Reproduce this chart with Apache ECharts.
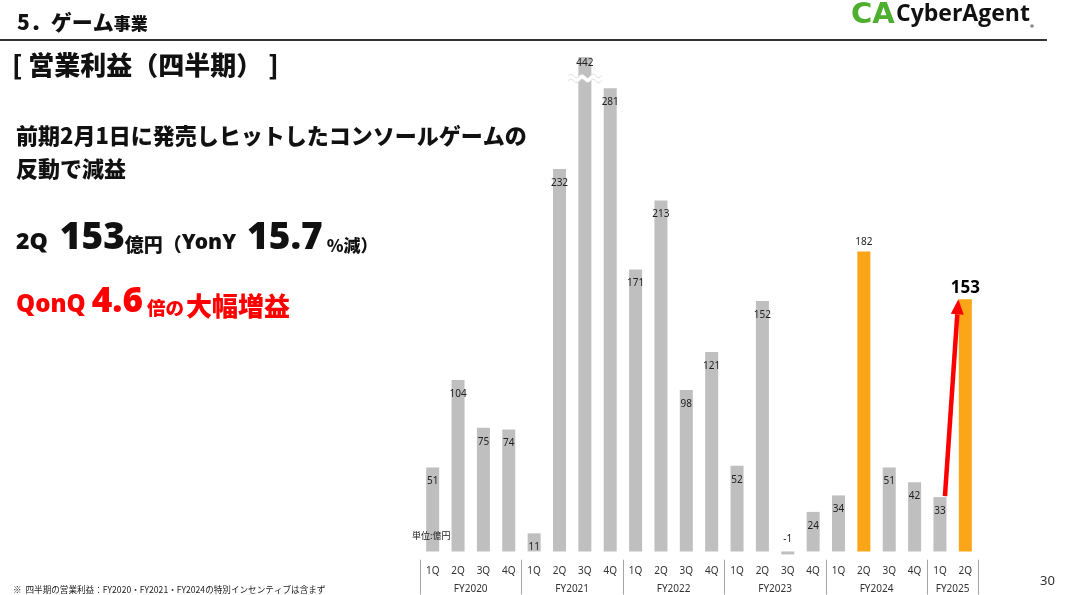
<!DOCTYPE html>
<html><head><meta charset="utf-8">
<script src="https://cdn.jsdelivr.net/npm/echarts@6/dist/echarts.min.js"></script>
<style>html,body{margin:0;padding:0;background:#fff}#c{width:1068px;height:595px}</style>
</head><body><div id="c"></div>
<script>
// ---- data ----
const fiscalYears = ['FY2020', 'FY2021', 'FY2022', 'FY2023', 'FY2024', 'FY2025'];
const quartersPerYear = [4, 4, 4, 4, 4, 2];
const quarterLabels = ['1Q','2Q','3Q','4Q', '1Q','2Q','3Q','4Q', '1Q','2Q','3Q','4Q',
                       '1Q','2Q','3Q','4Q', '1Q','2Q','3Q','4Q', '1Q','2Q'];
const operatingProfit = [51, 104, 75, 74,  11, 232, 442, 281,  171, 213, 98, 121,
                         52, 152, -1, 24,  34, 182, 51, 42,  33, 153];
const highlightIndex = [17, 21];
const axisCap = 300;     // bars above this value are drawn broken
const axisFloor = -5;

// ---- derived ----
const boundaries = [0];
quartersPerYear.forEach(n => boundaries.push(boundaries[boundaries.length - 1] + n));
const yearCenters = quartersPerYear.map((n, i) => boundaries[i] + n / 2);
const total = boundaries[boundaries.length - 1];
const lastIdx = operatingProfit.length - 1;

const GRAY = '#BFBFBF', ORANGE = '#FBA619', RED = '#FF0000';
const FONT = '"Noto Sans CJK JP", "Noto Sans", sans-serif';
const NUMFONT = '"Noto Sans", "Open Sans", sans-serif';
const HW = 900;

const chart = echarts.init(document.getElementById('c'));

const barData = operatingProfit.map((v, i) => {
  const hl = highlightIndex.includes(i);
  const item = { value: v, itemStyle: { color: hl ? ORANGE : GRAY } };
  if (v > axisCap) item.label = { distance: 1 };
  if (v < 0) item.label = { position: 'top', distance: 7 };
  if (hl) item.label = { position: 'top', distance: 4 };
  if (i === lastIdx) item.label = { position: 'top', distance: 3, fontSize: 17, fontWeight: 'bold', color: '#000' };
  return item;
});

const option = {
  animation: false,
  backgroundColor: '#fff',
  grid: { left: 420, right: 90, top: 57, bottom: 35.3, containLabel: false },
  xAxis: [
    {
      type: 'category', data: quarterLabels, position: 'bottom',
      axisLine: { show: false }, axisTick: { show: false },
      axisLabel: { interval: 0, margin: 6, fontSize: 10, color: '#333', fontFamily: NUMFONT }
    },
    {
      type: 'value', min: 0, max: total, position: 'bottom',
      axisLine: { show: false }, splitLine: { show: false },
      axisTick: { show: true, customValues: boundaries, length: 35, lineStyle: { color: '#A6A6A6', width: 1 } },
      axisLabel: {
        customValues: yearCenters, margin: 24, fontSize: 10, color: '#333', fontFamily: NUMFONT,
        formatter: v => { const k = yearCenters.indexOf(v); return k >= 0 ? fiscalYears[k] : ''; }
      }
    }
  ],
  yAxis: { type: 'value', min: axisFloor, max: axisCap, show: false, splitLine: { show: false } },
  series: [{
    type: 'bar', xAxisIndex: 0, yAxisIndex: 0, data: barData, barWidth: 13, clip: true, barMinHeight: 3,
    label: { show: true, position: 'insideTop', distance: 9, fontSize: 10, color: '#222', fontFamily: NUMFONT,
             formatter: p => String(p.value) }
  }]
};
chart.setOption(option);

// ---- decorations positioned via the chart's own scales ----
const px = (i, v) => chart.convertToPixel({ xAxisIndex: 0, yAxisIndex: 0 }, [i, v]);
const breakIdx = operatingProfit.findIndex(v => v > axisCap);
const bp = px(breakIdx, 287);
function wave(cx, cy, dy) {
  const pts = [];
  for (let x = -17; x <= 17; x += 1) pts.push([cx + x, cy + dy + 1.8 * Math.sin(x / 11 * 2 * Math.PI)]);
  return pts;
}
const aStart = px(lastIdx - 1, operatingProfit[lastIdx - 1]);
const aEnd = px(lastIdx, operatingProfit[lastIdx]);
const sx = aStart[0] + 5, sy = aStart[1] - 1;
const tx = aEnd[0] - 7, ty = aEnd[1];
const ang = Math.atan2(ty - sy, tx - sx);
const headLen = 15, headW = 6.5;
const bx = tx - headLen * Math.cos(ang), by = ty - headLen * Math.sin(ang);
const nx = -Math.sin(ang), ny = Math.cos(ang);

function tok(size, fill, lh, pb, fam, pl) {
  return { fontSize: size, fontWeight: HW, fontFamily: fam || FONT, fill: fill, verticalAlign: 'bottom', lineHeight: lh, padding: [0, 0, pb || 0, pl || 0] };
}

const graphics = [
  // header
  { type: 'text', x: 17, y: 8, style: { text: '{a|5．ゲーム}{b|事業}',
    rich: { a: tok(21, '#111', 25), b: tok(17, '#111', 22, 1) } } },
  { type: 'rect', shape: { x: 0, y: 39, width: 1047, height: 2 }, style: { fill: '#333' } },
  // logo
  { type: 'text', x: 851, y: 1, style: { text: 'CA', fontSize: 29, fontWeight: 900, fontFamily: '"DejaVu Sans", sans-serif', fill: '#4EAF2E' } },
  { type: 'text', x: 896, y: 3, style: { text: 'CyberAgent', fontSize: 23, fontWeight: 'bold', fontFamily: '"Open Sans", sans-serif', fill: '#111' } },
  { type: 'circle', shape: { cx: 1032, cy: 26, r: 1.8 }, style: { fill: '#888' } },
  // section title
  { type: 'text', x: 12, y: 52, style: { text: '[ 営業利益（四半期） ]', fontSize: 26, fontWeight: HW, fontFamily: FONT, fill: '#111' } },
  // body text
  { type: 'text', x: 16, y: 119, style: { text: '前期2月1日に発売しヒットしたコンソールゲームの\n反動で減益', fontSize: 22, fontWeight: HW, fontFamily: FONT, fill: '#111', lineHeight: 33 } },
  { type: 'text', x: 16, y: 214, style: { text: '{a|2Q  }{b|153}{c|億円（}{y|YonY  }{b|15.7}{d| %減）}',
    rich: {
      a: tok(23, '#111', 29, 3, NUMFONT),
      b: tok(37, '#111', 43, 0, NUMFONT),
      c: tok(19, '#111', 25, 3),
      y: tok(21, '#111', 27, 3, NUMFONT),
      d: tok(17, '#111', 23, 3)
    } } },
  { type: 'text', x: 16, y: 279, style: { text: '{a|QonQ }{b|4.6}{c|倍の}{e|大幅増益}',
    rich: {
      a: tok(24, RED, 30, 3, NUMFONT),
      b: tok(35, RED, 41, 0, NUMFONT),
      c: tok(18.5, RED, 24, 3, FONT, 4),
      e: tok(26, RED, 32, 1, FONT, 2)
    } } },
  // unit label
  { type: 'text', x: 412, y: 531, z: 100, style: { text: '単位:億円', fontSize: 9, fontFamily: FONT, fill: '#222' } },
  // footnote & page number
  { type: 'text', x: 13, y: 585, style: { text: '※  四半期の営業利益：FY2020・FY2021・FY2024の特別インセンティブは含まず', fontSize: 8.6, fontFamily: FONT, fill: '#222' } },
  { type: 'text', x: 1040, y: 575, style: { text: '30', fontSize: 13, fontFamily: NUMFONT, fill: '#333' } },
  // axis break on the capped bar
  { type: 'polyline', shape: { points: wave(bp[0], bp[1], 0) }, style: { stroke: '#fff', lineWidth: 4, fill: null }, z: 100 },
  { type: 'polyline', shape: { points: wave(bp[0], bp[1], -2.5) }, style: { stroke: '#D6D6D6', lineWidth: 0.8, fill: null }, z: 101 },
  { type: 'polyline', shape: { points: wave(bp[0], bp[1], 2.5) }, style: { stroke: '#D6D6D6', lineWidth: 0.8, fill: null }, z: 101 },
  // red arrow
  { type: 'line', shape: { x1: sx, y1: sy, x2: bx, y2: by }, style: { stroke: RED, lineWidth: 4.5 }, z: 100 },
  { type: 'polygon', shape: { points: [[tx, ty], [bx + nx * headW, by + ny * headW], [bx - nx * headW, by - ny * headW]] }, style: { fill: RED }, z: 100 }
];
chart.setOption({ graphic: graphics });
</script>
</body></html>
